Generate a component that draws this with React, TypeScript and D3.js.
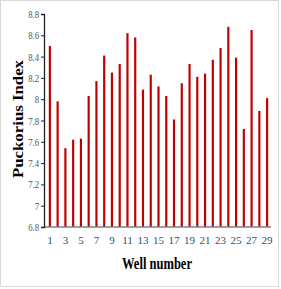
import * as d3 from "d3";
import { useEffect, useRef } from "react";

const wells = d3.range(1, 30).map(String);
const puckorius = [
  8.5, 7.98, 7.54, 7.62, 7.63, 8.03, 8.17, 8.41, 8.25, 8.33,
  8.62, 8.58, 8.09, 8.23, 8.12, 8.03, 7.81, 8.15, 8.33, 8.21,
  8.24, 8.37, 8.48, 8.68, 8.39, 7.72, 8.65, 7.89, 8.01,
];
const yTicks = [6.8, 7, 7.2, 7.4, 7.6, 7.8, 8, 8.2, 8.4, 8.6, 8.8];

export default function App({
  width = 281,
  height = 289,
  marginTop = 14,
  marginRight = 10,
  marginBottom = 62,
  marginLeft = 44,
}) {
  const gy = useRef(null);
  const gx = useRef(null);

  const x = d3
    .scaleBand(wells, [46, width - marginRight])
    .paddingInner(0.72)
    .paddingOuter(0.36);
  const y = d3.scaleLinear([6.8, 8.8], [height - marginBottom, marginTop]);

  useEffect(() => {
    const g = d3.select(gy.current);
    g.call(
      d3.axisLeft(y).tickValues(yTicks).tickSize(3).tickFormat((d) => String(d))
    );
    g.select(".domain").attr("stroke", "#222").attr("stroke-width", 1.3);
    g.selectAll(".tick line").attr("stroke", "#222");
    g.selectAll("text")
      .attr("font-family", "Liberation Serif")
      .attr("font-size", 11)
      .attr("fill", "#555")
      .attr("x", -6)
      .attr("transform", "scale(0.8,1)");
  }, [gy, y]);

  useEffect(() => {
    const g = d3.select(gx.current);
    g.call(
      d3.axisBottom(x).tickSize(0).tickFormat((d, i) => (i % 2 === 0 ? d : ""))
    );
    g.select(".domain").remove();
    g.selectAll("text")
      .attr("font-family", "Liberation Serif")
      .attr("font-size", 11)
      .attr("fill", "#2f4f6f")
      .attr("dy", "1.25em");
  }, [gx, x]);

  return (
    <svg width={width} height={height} style={{ position: "absolute", left: 0, top: 0 }}>
      <rect x={0.5} y={0.5} width={278} height={286} fill="white" stroke="#d9d9d9" />
      <g fill="#c00000">
        {puckorius.map((d, i) => (
          <rect key={i} x={x(wells[i])} y={y(d)} width={x.bandwidth()} height={y(6.8) - y(d)} />
        ))}
      </g>
      <line x1={marginLeft} x2={width - marginRight} y1={y(6.8)} y2={y(6.8)} stroke="#808080" strokeWidth={1.5} />
      <g ref={gy} transform={`translate(${marginLeft},0)`} />
      <g ref={gx} transform={`translate(0,${y(6.8)})`} />
      <text
        transform="translate(23,119) rotate(-90)"
        textAnchor="middle"
        fontFamily="Liberation Serif"
        fontWeight="bold"
        fontSize={14}
        textLength={118}
        lengthAdjust="spacingAndGlyphs"
      >
        Puckorius Index
      </text>
      <text
        x={157}
        y={269}
        textAnchor="middle"
        fontFamily="Liberation Serif"
        fontWeight="bold"
        fontSize={16}
        textLength={70}
        lengthAdjust="spacingAndGlyphs"
      >
        Well number
      </text>
    </svg>
  );
}
